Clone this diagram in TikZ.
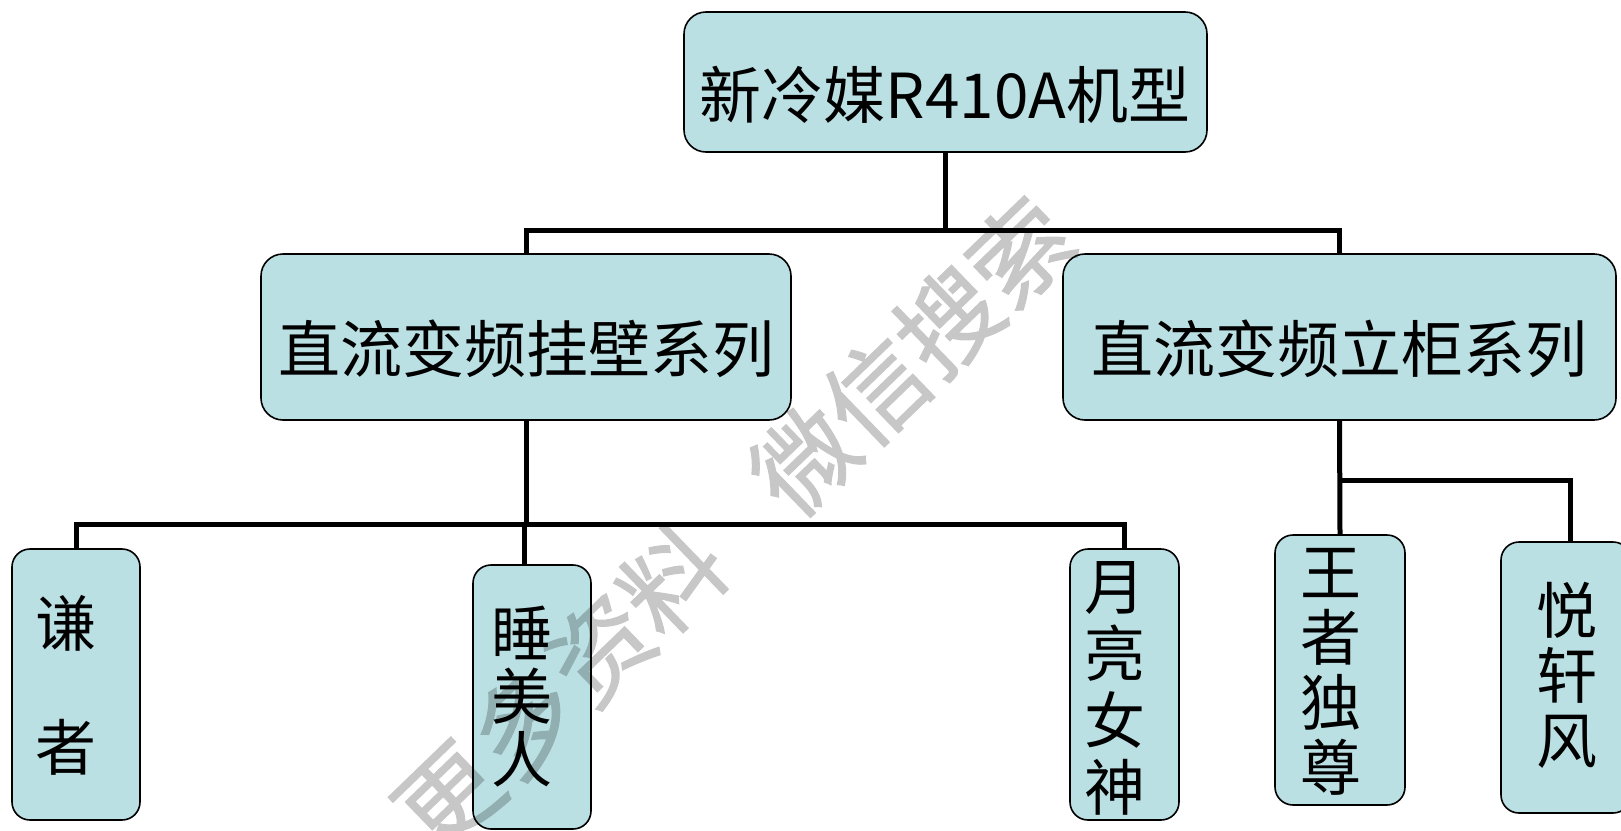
\documentclass[tikz,border=0pt]{standalone}
\usepackage{fontspec}
\newfontfamily\cjk{Noto Sans CJK SC}
\newfontfamily\cjkwm[FakeBold=1.2]{Noto Sans CJK SC}
\definecolor{boxfill}{RGB}{187,224,227}
\begin{document}
\begin{tikzpicture}[x=1pt,y=-1pt,
  box/.style={draw=black,line width=1.6pt,fill=boxfill,inner sep=0pt},
  bigbox/.style={box,rounded corners=22pt},
  smallbox/.style={box,rounded corners=18pt},
  conn/.style={draw=black,line width=5pt,line join=miter},
  hlbl/.style={font=\cjk\fontsize{62}{66}\selectfont,inner sep=0pt,text=black},
  vlbl/.style={font=\cjk\fontsize{61}{65}\selectfont,inner sep=0pt,align=center,text=black},
  wmark/.style={font=\cjkwm\fontsize{100}{100}\selectfont,inner sep=0pt,text=black,rotate=44}]
\useasboundingbox (0,0) rectangle (1621,830);
\begin{scope}
\clip (0,0) rectangle (1621,830);
% boxes
\node[bigbox,minimum width=523pt,minimum height=140pt] (top) at (945.5,82) {};
\node[bigbox,minimum width=530pt,minimum height=166pt] (lm) at (526,337) {};
\node[bigbox,minimum width=553pt,minimum height=166pt] (rm) at (1339.5,337) {};
\node[smallbox,minimum width=128pt,minimum height=271pt] (qian) at (76,684.5) {};
\node[smallbox,minimum width=118pt,minimum height=264pt] (shui) at (532,697) {};
\node[smallbox,minimum width=109pt,minimum height=271pt] (yue) at (1124.5,684.5) {};
\node[smallbox,minimum width=130pt,minimum height=270pt] (wang) at (1340,670) {};
\node[smallbox,minimum width=130pt,minimum height=271pt] (yx) at (1566,677.5) {};
% junctions
\coordinate (j1) at (945.5,230);
\coordinate (j2) at (526,524);
\coordinate (j3) at (1340,480);
\coordinate (j4) at (524,524);
\coordinate (j5) at (1570,480);
% connectors
\draw[conn] (top.south) -- (j1);
\draw[conn] (lm.north) |- (j1) -| (rm.north);
\draw[conn] (lm.south) -- (j2);
\draw[conn] (qian.north) |- (j2) -| (yue.north);
\draw[conn] (j4) -- (j4 |- shui.north);
\draw[conn] (rm.south) -- (wang.north);
\draw[conn] (j3) -- (j5) -- (j5 |- yx.north);
% labels
\node[hlbl] (ttop) at (945,95) {新冷媒R410A机型};
\node[hlbl] (tlm) at (526,349) {直流变频挂壁系列};
\node[hlbl] (trm) at (1339,349) {直流变频立柜系列};
\node[vlbl,font=\cjk\fontsize{61}{62}\selectfont] (tqian) at (66,685) {谦\\\mbox{}\\者};
\node[vlbl,font=\cjk\fontsize{61}{63}\selectfont] (tshui) at (522,697) {睡\\美\\人};
\node[vlbl,font=\cjk\fontsize{61}{67}\selectfont] (tyue) at (1115,688) {月\\亮\\女\\神};
\node[vlbl] (twang) at (1331,672) {王\\者\\独\\尊};
\node[vlbl] (tyx) at (1567,675) {悦\\轩\\风};
% watermark
\begin{scope}[transparency group,opacity=0.22]
\node[wmark] (wm1) at (560,688) {更\hspace{6pt}多\hspace{6pt}资料};
\node[wmark] (wm2) at (912,356) {微信搜索};
\end{scope}
\end{scope}
\end{tikzpicture}
\end{document}
